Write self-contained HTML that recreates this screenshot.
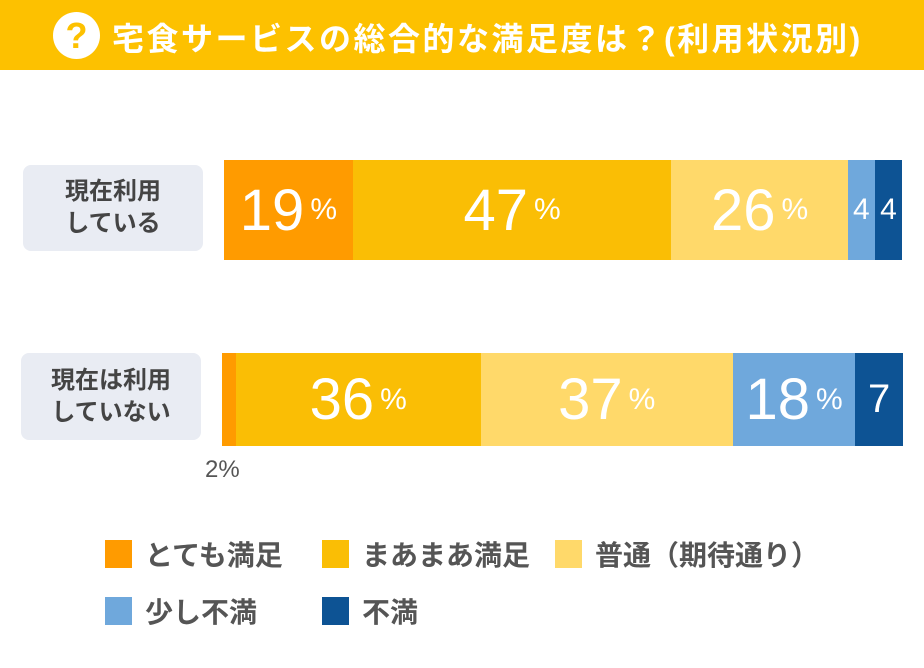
<!DOCTYPE html>
<html><head><meta charset="utf-8">
<style>
body{margin:0;width:924px;height:668px;background:#fff;position:relative;overflow:hidden;font-family:"Liberation Sans","Noto Sans CJK JP",sans-serif;}
#hdr{position:absolute;left:0;top:0;width:924px;height:70px;background:#FDC100;}
#title{position:absolute;left:112px;top:14px;color:#fff;font-size:32px;font-weight:bold;white-space:nowrap;letter-spacing:2.5px;}
#qicon{position:absolute;left:53px;top:12px;width:47px;height:47px;border-radius:50%;background:#fff;color:#FDC100;font-size:36px;font-weight:bold;text-align:center;line-height:47px;}
.lbl{position:absolute;background:#E9ECF3;border-radius:8px;color:#444;font-size:24px;font-weight:bold;display:flex;align-items:center;justify-content:center;text-align:center;line-height:32px;}
.seg{position:absolute;color:#fff;display:flex;align-items:center;justify-content:center;font-weight:500;white-space:nowrap;}
.big{font-size:58px;}
.pc{font-size:30px;margin-left:6px;}
.leg{position:absolute;font-size:28px;font-weight:bold;color:#555;white-space:nowrap;}
.sw{position:absolute;width:27px;height:28px;}
</style></head><body>
<div id="hdr"></div>
<div id="qicon">?</div>
<div id="title">宅食サービスの総合的な満足度は？(利用状況別)</div>
<div class="lbl" style="left:23px;top:165px;width:180px;height:86px">現在利用<br>している</div>
<div class="lbl" style="left:21px;top:353px;width:180px;height:87px">現在は利用<br>していない</div>
<div id="chart"></div>
<div class="leg" style="left:205px;top:456px;font-size:24px;font-weight:500">2%</div>
<script>
var categories = ["現在利用している","現在は利用していない"];
var seriesNames = ["とても満足","まあまあ満足","普通（期待通り）","少し不満","不満"];
var colors = ["#FF9B00","#FABE05","#FFD96A","#6FA8DC","#0D5394"];
var row1 = [19,47,26,4,4];
var row2 = [2,36,37,18,7];
var rowsData = [row1,row2];
var rowGeom = [{x:224,y:160,w:678,h:100},{x:222,y:353,w:681,h:93}];
var chart = document.getElementById('chart');
rowsData.forEach(function(vals,ri){
  var g = rowGeom[ri];
  var tot = vals.reduce(function(a,b){return a+b;},0);
  var x = g.x;
  vals.forEach(function(v,si){
    var w = v/tot*g.w;
    var d = document.createElement('div');
    d.className='seg';
    
    
    d.style.left=x+'px';d.style.top=g.y+'px';d.style.width=w+'px';d.style.height=g.h+'px';d.style.background=colors[si];
    if(w>100){ d.innerHTML='<span class="big">'+v+'</span><span class="pc">%</span>'; }
    else if(w>80){ d.innerHTML='<span style="font-size:44px">'+v+'</span><span class="pc">%</span>'; }
    else if(w>40){ d.innerHTML='<span style="font-size:40px">'+v+'</span>'; }
    else if(w>15){ d.innerHTML='<span style="font-size:30px">'+v+'</span>'; }
    chart.appendChild(d);
    x+=w;
  });
});
var legPos=[[105,540],[322,540],[555,540],[105,597],[322,597]];
seriesNames.forEach(function(n,i){
  var s=document.createElement('div');s.className='sw';
  
  
  s.style.left=legPos[i][0]+'px';s.style.top=legPos[i][1]+'px';s.style.background=colors[i];
  chart.appendChild(s);
  var t=document.createElement('div');t.className='leg';
  
  
  t.style.left=(legPos[i][0]+40)+'px';t.style.top=(legPos[i][1]-6)+'px';t.textContent=n;
  chart.appendChild(t);
});
</script>
</body></html>
